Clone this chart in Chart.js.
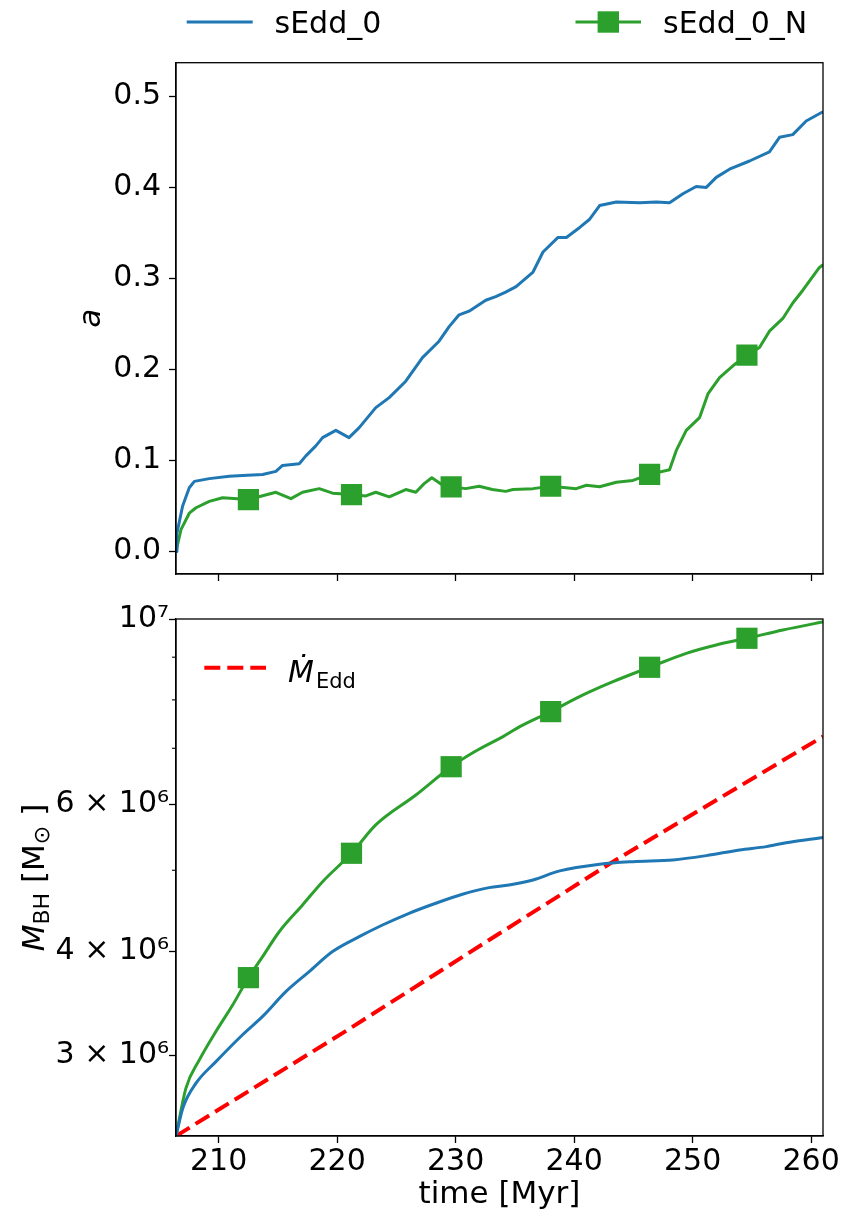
<!DOCTYPE html>
<html><head><meta charset="utf-8">
<script src="https://cdn.jsdelivr.net/npm/chart.js@4.4.1/dist/chart.umd.min.js"></script>
<style>
html,body{margin:0;padding:0;background:#fff;}
#wrap{position:relative;width:844px;height:1218px;background:#fff;}
canvas{position:absolute;left:0;}
#c1{top:0;}
#c2{top:600px;}
</style></head><body>
<div id="wrap"><canvas id="c1" width="844" height="600"></canvas><canvas id="c2" width="844" height="618"></canvas></div>
<script>
// ---------------- data ----------------
const xTicks = [210, 220, 230, 240, 250, 260];
const aTicks = [0, 0.1, 0.2, 0.3, 0.4, 0.5];
const mTickVals = [3e6, 4e6, 5e6, 6e6, 7e6, 8e6, 9e6, 1e7];
const mTickLabels = ['3 × 10⁶', '4 × 10⁶', '', '6 × 10⁶', '', '', '', '10⁷'];
const seriesNames = ['sEdd_0', 'sEdd_0_N'];
const eddName = 'Ṁ';
const eddSub = 'Edd';

// top panel: spin a(t)
const blueTopT = [206.4, 206.48, 206.96, 207.52, 207.95, 209.21, 210.9, 212.02, 213.71, 214.83, 215.39, 216.8, 217.36, 218.2, 218.77, 219.89, 221.0, 221.86, 223.26, 224.39, 225.79, 227.2, 228.6, 229.45, 230.29, 231.13, 232.54, 233.38, 234.22, 235.1, 236.53, 237.37, 238.64, 239.34, 240.47, 241.31, 242.15, 243.56, 245.52, 246.93, 248.05, 249.18, 250.3, 251.15, 251.99, 253.11, 254.8, 256.48, 257.33, 258.45, 259.58, 260.84, 261.0];
const blueTopA = [0.0, 0.02, 0.05, 0.07, 0.077, 0.080, 0.0826, 0.0835, 0.0845, 0.088, 0.0945, 0.0964, 0.105, 0.116, 0.125, 0.133, 0.125, 0.136, 0.158, 0.169, 0.187, 0.213, 0.231, 0.247, 0.260, 0.264, 0.276, 0.280, 0.285, 0.291, 0.307, 0.329, 0.345, 0.345, 0.356, 0.365, 0.380, 0.384, 0.383, 0.384, 0.383, 0.393, 0.401, 0.400, 0.411, 0.420, 0.429, 0.439, 0.455, 0.458, 0.473, 0.482, 0.483];

const greenTopT = [206.4, 206.82, 207.52, 208.09, 209.21, 210.33, 212.51, 214.83, 216.1, 217.08, 218.49, 219.61, 221.21, 222.42, 223.26, 224.39, 225.79, 226.64, 227.34, 227.99, 228.88, 229.62, 230.85, 231.98, 233.1, 234.22, 234.84, 236.53, 238.02, 240.18, 241.03, 242.15, 243.56, 244.96, 246.37, 248.05, 248.62, 249.46, 250.58, 251.29, 252.27, 253.4, 254.58, 255.64, 256.48, 257.61, 258.45, 259.3, 260.7, 261.0];
const greenTopA = [0.0, 0.024, 0.042, 0.048, 0.055, 0.059, 0.057, 0.065, 0.058, 0.065, 0.069, 0.064, 0.0625, 0.061, 0.065, 0.060, 0.068, 0.065, 0.0745, 0.081, 0.073, 0.071, 0.069, 0.0716, 0.068, 0.066, 0.068, 0.069, 0.0716, 0.069, 0.0727, 0.071, 0.076, 0.078, 0.0847, 0.0898, 0.111, 0.133, 0.147, 0.173, 0.191, 0.204, 0.2157, 0.224, 0.242, 0.256, 0.273, 0.287, 0.312, 0.315];

// marker times of sEdd_0_N
const markerT = [212.51, 221.21, 229.62, 238.02, 246.37, 254.58];

// bottom panel: M_BH(t)
const blueBotT = [206.4, 207.0, 208.09, 209.77, 212.02, 213.71, 215.67, 217.64, 219.61, 221.86, 223.83, 226.07, 228.32, 230.57, 232.82, 234.5, 236.53, 238.78, 242.15, 244.96, 248.33, 251.15, 253.96, 256.2, 257.89, 260.84, 261.0];
const blueBotM = [2.402e6, 2.6e6, 2.779e6, 2.949e6, 3.176e6, 3.341e6, 3.577e6, 3.78e6, 3.995e6, 4.163e6, 4.299e6, 4.44e6, 4.565e6, 4.68e6, 4.766e6, 4.8e6, 4.868e6, 4.991e6, 5.083e6, 5.12e6, 5.144e6, 5.206e6, 5.288e6, 5.337e6, 5.395e6, 5.47e6, 5.475e6];

const greenBotT = [206.4, 207.24, 208.37, 209.77, 211.18, 212.51, 213.71, 215.11, 217.08, 218.77, 221.21, 223.26, 226.64, 229.62, 231.7, 234.0, 235.41, 238.02, 240.75, 243.28, 246.37, 249.46, 251.99, 254.58, 257.61, 260.84, 261.0];
const greenBotM = [2.402e6, 2.741e6, 2.963e6, 3.205e6, 3.447e6, 3.718e6, 3.94e6, 4.22e6, 4.543e6, 4.845e6, 5.24e6, 5.666e6, 6.153e6, 6.653e6, 6.947e6, 7.23e6, 7.43e6, 7.745e6, 8.11e6, 8.413e6, 8.753e6, 9.097e6, 9.309e6, 9.482e6, 9.701e6, 9.91e6, 9.92e6];

const eddT = [206.4, 220.45, 233.72, 243.28, 261.0];
const eddM = [2.402e6, 3.19e6, 4.202e6, 5.12e6, 7.23e6];

// ---------------- style ----------------
const FONT = '"DejaVu Sans", sans-serif';
const TICK = 30, LABEL = 31;
const BLUE = '#1f77b4', GREEN = '#2ca02c', RED = '#ff0000';
const X_MIN = 206.4, X_MAX = 261.0;

const pts = (xs, ys) => xs.map((x, i) => ({x: x, y: ys[i]}));
const markerRadius = c => (c.raw && markerT.includes(c.raw.x)) ? 15 : 0;

const framePlugin = {
  id: 'frame',
  afterDraw(chart) {
    const {ctx, chartArea: a} = chart;
    ctx.save();
    ctx.strokeStyle = '#000';
    ctx.lineWidth = 1.3;
    ctx.strokeRect(a.left, a.top, a.right - a.left, a.bottom - a.top);
    ctx.restore();
  }
};

function drawRich(ctx, parts, cx, cy, rotate) {
  ctx.save();
  ctx.translate(cx, cy);
  if (rotate) ctx.rotate(-Math.PI / 2);
  ctx.fillStyle = '#000';
  ctx.textBaseline = 'alphabetic';
  ctx.textAlign = 'left';
  let total = 0;
  parts.forEach(p => { ctx.font = p.font; p.w = ctx.measureText(p.t).width; total += p.w + (p.gap || 0); });
  let x = -total / 2;
  parts.forEach(p => { ctx.font = p.font; ctx.fillText(p.t, x, p.dy || 0); x += p.w + (p.gap || 0); });
  ctx.restore();
}

const yTitleTop = {
  id: 'yTitleTop',
  afterDraw(chart) {
    const a = chart.chartArea;
    drawRich(chart.ctx, [{t: 'a', font: `italic ${LABEL}px ${FONT}`}], 100, (a.top + a.bottom) / 2, true);
  }
};

const legendTop = {
  id: 'legendTop',
  afterDraw(chart) {
    const ctx = chart.ctx;
    const ds = chart.data.datasets;
    ctx.save();
    ctx.lineCap = 'butt';
    ctx.strokeStyle = ds[0].borderColor; ctx.lineWidth = 3;
    ctx.beginPath(); ctx.moveTo(186.7, 22); ctx.lineTo(252.7, 22); ctx.stroke();
    ctx.strokeStyle = ds[1].borderColor;
    ctx.beginPath(); ctx.moveTo(575.5, 22); ctx.lineTo(641, 22); ctx.stroke();
    ctx.fillStyle = ds[1].borderColor;
    ctx.fillRect(608.3 - 10.7, 22 - 10.7, 21.4, 21.4);
    ctx.fillStyle = '#000';
    ctx.font = `${TICK}px ${FONT}`;
    ctx.textBaseline = 'alphabetic';
    ctx.textAlign = 'left';
    ctx.fillText(ds[0].label, 274.5, 33.3);
    ctx.fillText(ds[1].label, 663, 33.3);
    ctx.restore();
  }
};

const yTitleBot = {
  id: 'yTitleBot',
  afterDraw(chart) {
    const a = chart.chartArea;
    const big = `${LABEL}px ${FONT}`, bigI = `italic ${LABEL}px ${FONT}`, small = `${Math.round(LABEL * 0.7)}px ${FONT}`;
    drawRich(chart.ctx, [
      {t: 'M', font: bigI},
      {t: 'BH', font: small, dy: 5, gap: 0},
      {t: ' [', font: big},
      {t: 'M', font: big},
      {t: '⊙', font: small, dy: 5},
      {t: ' ]', font: big}
    ], 44, (a.top + a.bottom) / 2, true);
  }
};

const legendBot = {
  id: 'legendBot',
  afterDraw(chart) {
    const ctx = chart.ctx;
    const ds = chart.data.datasets[2];
    const y = 67.7;
    ctx.save();
    ctx.strokeStyle = ds.borderColor; ctx.lineWidth = ds.borderWidth;
    ctx.setLineDash(ds.borderDash);
    ctx.beginPath(); ctx.moveTo(204.3, y); ctx.lineTo(266, y); ctx.stroke();
    ctx.setLineDash([]);
    ctx.fillStyle = '#000';
    ctx.textBaseline = 'alphabetic'; ctx.textAlign = 'left';
    ctx.font = `italic ${TICK}px ${FONT}`;
    ctx.fillText(eddName, 288, 81.5);
    const w = ctx.measureText(eddName).width;
    ctx.font = `${Math.round(TICK * 0.7)}px ${FONT}`;
    ctx.fillText(eddSub, 288 + w + 2, 88);
    ctx.restore();
  }
};

const minorTicks = {
  id: 'minorTicks',
  afterDraw(chart) {
    const s = chart.scales.y, ctx = chart.ctx;
    ctx.save();
    ctx.strokeStyle = '#000'; ctx.lineWidth = 1.1;
    mTickVals.forEach((v, i) => {
      if (mTickLabels[i] !== '') return;
      const y = s.getPixelForValue(v);
      ctx.beginPath(); ctx.moveTo(s.right - 4, y); ctx.lineTo(s.right, y); ctx.stroke();
    });
    ctx.restore();
  }
};

const axisGrid = {drawOnChartArea: false, drawTicks: true, tickLength: 7, tickWidth: 1.3, tickColor: '#000'};
const axisBorder = {display: true, color: '#000', width: 1.3};

// ---------------- top chart ----------------
new Chart(document.getElementById('c1'), {
  type: 'line',
  data: {
    datasets: [
      {label: seriesNames[0], data: pts(blueTopT, blueTopA), borderColor: BLUE, backgroundColor: BLUE, borderWidth: 3, pointRadius: 0, tension: 0, borderJoinStyle: 'round'},
      {label: seriesNames[1], data: pts(greenTopT, greenTopA), borderColor: GREEN, backgroundColor: GREEN, borderWidth: 3, tension: 0, borderJoinStyle: 'round',
       pointStyle: 'rect', pointRadius: markerRadius, pointBackgroundColor: GREEN, pointBorderWidth: 0, pointHoverRadius: markerRadius}
    ]
  },
  options: {
    responsive: false, animation: false, devicePixelRatio: 1,
    layout: {padding: {left: 0, right: 21, top: 62.7, bottom: 0}},
    plugins: {legend: {display: false}, tooltip: {enabled: false}},
    events: [],
    scales: {
      x: {type: 'linear', min: X_MIN, max: X_MAX,
          afterBuildTicks: s => { s.ticks = xTicks.map(v => ({value: v})); },
          afterFit: s => { s.height = 22.3; },
          grid: axisGrid, border: axisBorder,
          ticks: {callback: () => '', font: {family: FONT, size: TICK}}},
      y: {type: 'linear', min: -0.0248, max: 0.537,
          afterBuildTicks: s => { s.ticks = aTicks.map(v => ({value: v})); },
          afterFit: s => { s.width = 176; },
          grid: axisGrid, border: axisBorder,
          ticks: {color: '#000', padding: 8, font: {family: FONT, size: TICK}, callback: v => Number(v).toFixed(1)}}
    }
  },
  plugins: [framePlugin, yTitleTop, legendTop]
});

// ---------------- bottom chart ----------------
new Chart(document.getElementById('c2'), {
  type: 'line',
  data: {
    datasets: [
      {label: seriesNames[0], data: pts(blueBotT, blueBotM), borderColor: BLUE, borderWidth: 3, pointRadius: 0, cubicInterpolationMode: 'monotone'},
      {label: seriesNames[1], data: pts(greenBotT, greenBotM), borderColor: GREEN, backgroundColor: GREEN, borderWidth: 3, cubicInterpolationMode: 'monotone',
       pointStyle: 'rect', pointRadius: markerRadius, pointBackgroundColor: GREEN, pointBorderWidth: 0, pointHoverRadius: markerRadius},
      {label: eddName + eddSub, data: pts(eddT, eddM), borderColor: RED, borderWidth: 4, borderDash: [16, 7], pointRadius: 0, tension: 0}
    ]
  },
  options: {
    responsive: false, animation: false, devicePixelRatio: 1,
    layout: {padding: {left: 0, right: 21, top: 19, bottom: 0}},
    plugins: {legend: {display: false}, tooltip: {enabled: false}},
    events: [],
    scales: {
      x: {type: 'linear', min: X_MIN, max: X_MAX,
          afterBuildTicks: s => { s.ticks = xTicks.map(v => ({value: v})); },
          afterFit: s => { s.height = 82; },
          grid: axisGrid, border: axisBorder,
          ticks: {color: '#000', padding: 1, font: {family: FONT, size: TICK}, maxRotation: 0, callback: v => String(Math.round(v))},
          title: {display: true, text: 'time [Myr]', color: '#000', font: {family: FONT, size: LABEL}, padding: {top: 0, bottom: 4}}},
      y: {type: 'logarithmic', min: 2.402e6, max: 1e7,
          afterBuildTicks: s => { s.ticks = mTickVals.map(v => ({value: v})); },
          afterFit: s => { s.width = 176; },
          grid: Object.assign({}, axisGrid, {tickColor: c => (c.tick && mTickLabels[mTickVals.indexOf(c.tick.value)] === '') ? 'rgba(0,0,0,0)' : '#000'}),
          border: axisBorder,
          ticks: {color: '#000', padding: 0, font: {family: FONT, size: TICK}, autoSkip: false,
                  callback: v => { const i = mTickVals.indexOf(v); return i >= 0 ? mTickLabels[i] : ''; }}}
    }
  },
  plugins: [framePlugin, yTitleBot, legendBot, minorTicks]
});
</script>
</body></html>
